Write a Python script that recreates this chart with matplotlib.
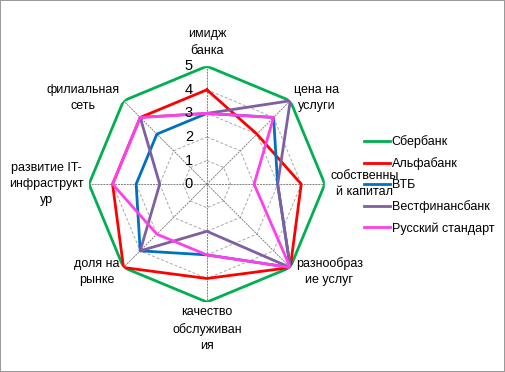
import numpy as np
import matplotlib.pyplot as plt

plt.rcParams['font.family'] = ['Liberation Sans', 'DejaVu Sans']

categories = ['имидж\nбанка', 'цена на\nуслуги', 'собственны\nй капитал', 'разнообраз\nие услуг',
              'качество\nобслуживан\nия', 'доля на\nрынке', 'развитие IT-\nинфраструкт\nур',
              'филиальная\nсеть']
sberbank = [5, 5, 5, 5, 5, 5, 5, 5]
alfabank = [4, 3, 4, 5, 4, 5, 4, 4]
vtb = [3, 4, 3, 5, 3, 4, 3, 3]
vestfinans = [3, 5, 3, 5, 2, 4, 2, 4]
russtandart = [3, 4, 2, 5, 3, 3, 4, 4]
series_names = ['Сбербанк', 'Альфабанк', 'ВТБ', 'Вестфинансбанк', 'Русский стандарт']
ticks = [0, 1, 2, 3, 4, 5]

colors = ['#00B050', '#FF0000', '#0070C0', '#7F5FA0', '#FF40E8']

n = len(categories)
angles = np.arange(n) * 2 * np.pi / n
closed = np.append(angles, angles[0])

fig = plt.figure(figsize=(5.05, 3.72), dpi=100)
fig.patch.set_edgecolor('#9a9a9a')
fig.patch.set_linewidth(1.2)

ax = fig.add_axes([0.1762, 0.188, 0.467, 0.634], projection='polar')
ax.set_theta_offset(np.pi / 2)
ax.set_theta_direction(-1)
ax.set_ylim(0, 5)
ax.grid(False)
ax.spines['polar'].set_visible(False)
ax.set_xticks([])
ax.set_yticks([])
ax.patch.set_alpha(0)

# polygon rings and spokes
for r in ticks[1:]:
    ax.plot(closed, [r] * (n + 1), color='#a8a8a8', lw=0.7, ls=(0, (3, 2)), zorder=1)
for a in angles:
    ax.plot([a, a], [0, 5], color='#808080', lw=0.7, ls=(0, (2, 1)), zorder=1)

for vals, name, c in zip([sberbank, alfabank, vtb, vestfinans, russtandart], series_names, colors):
    ax.plot(closed, vals + vals[:1], color=c, lw=2.0, label=name, zorder=3)

for t in ticks:
    ax.annotate(str(t), xy=(0, t), xytext=(-13, 0), textcoords='offset points',
                ha='center', va='center', fontsize=10.5, zorder=4)

offsets = [(0, 7), (3, 2), (4, 0), (4, -3), (0, -3), (-3, -3), (-4, 0), (-3, 2)]
aligns = [('center', 'bottom'), ('left', 'center'), ('left', 'center'), ('left', 'center'),
          ('center', 'top'), ('right', 'center'), ('right', 'center'), ('right', 'center')]
for a, lab, off, (ha, va) in zip(angles, categories, offsets, aligns):
    ax.annotate(lab, xy=(a, 5), xytext=off, textcoords='offset points', ha=ha, va=va,
                multialignment='center', fontsize=9, linespacing=1.45, annotation_clip=False)

ax.legend(loc='center left', bbox_to_anchor=(0.72, 0.503), bbox_transform=fig.transFigure,
          frameon=False, fontsize=9, handlelength=2.1, handletextpad=0.15,
          labelspacing=0.72, borderpad=0, borderaxespad=0)

fig.savefig('out.png', dpi=100, edgecolor=fig.get_edgecolor())
